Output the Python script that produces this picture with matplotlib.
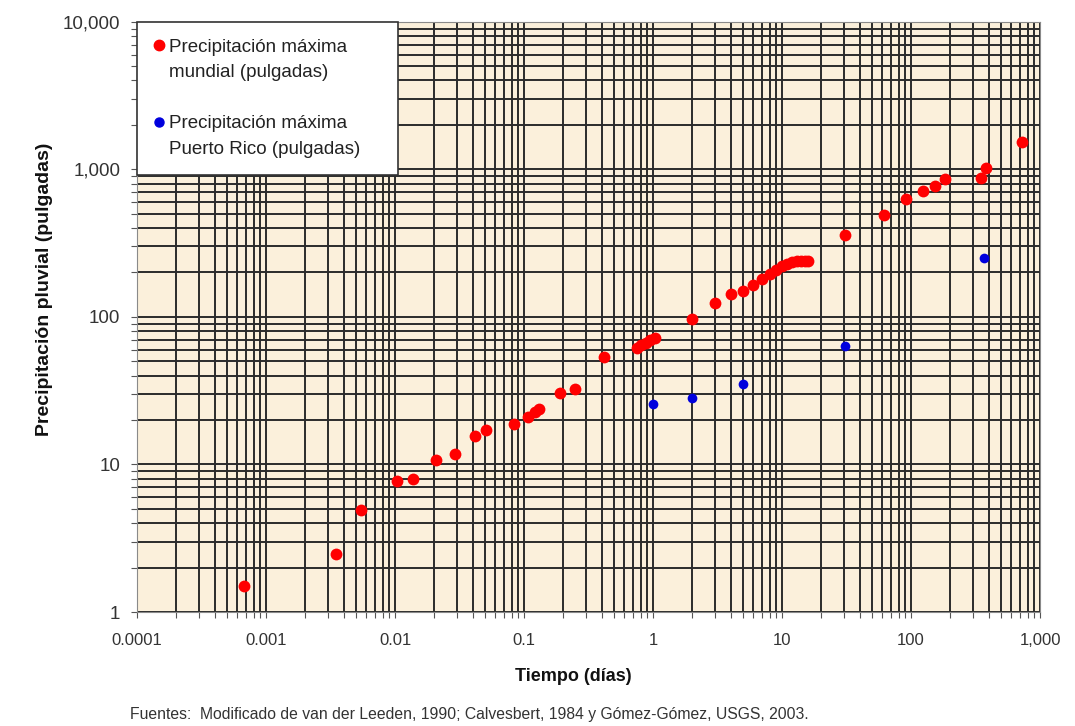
import numpy as np
import matplotlib.pyplot as plt
from matplotlib.ticker import LogLocator, FixedLocator, FixedFormatter, NullFormatter
from matplotlib.lines import Line2D

# Precipitación máxima mundial (pulgadas) vs tiempo (días)
world_days = [0.00068, 0.0035, 0.0054, 0.0104, 0.0138, 0.0208, 0.0293, 0.042, 0.051,
              0.083, 0.108, 0.121, 0.130, 0.189, 0.25, 0.42,
              0.75, 0.80, 0.88, 0.95, 1.04,
              2, 3, 4, 5, 6, 7, 8, 9, 10, 11, 12, 13, 14, 15, 16,
              31, 62, 92, 123, 153, 184, 350, 380, 730]
world_in = [1.5, 2.47, 4.9, 7.7, 8.0, 10.7, 11.8, 15.6, 17.1,
            18.8, 21.0, 22.7, 23.8, 30.5, 32.5, 53.5,
            62, 64, 67, 70, 72,
            97, 124, 143, 150, 165, 182, 196, 208, 220, 229, 235, 238, 239, 240, 240,
            360, 490, 630, 715, 775, 860, 880, 1020, 1540]

# Precipitación máxima Puerto Rico (pulgadas)
pr_days = [1, 2, 5, 31, 365]
pr_in = [25.7, 28.2, 35.1, 63.6, 251]

x_ticks = [1e-4, 1e-3, 1e-2, 1e-1, 1, 10, 100, 1000]
x_labels = ['0.0001', '0.001', '0.01', '0.1', '1', '10', '100', '1,000']
y_ticks = [1, 10, 100, 1000, 10000]
y_labels = ['1', '10', '100', '1,000', '10,000']

legend_rows = ['Precipitación máxima', 'mundial (pulgadas)', ' ',
               'Precipitación máxima', 'Puerto Rico (pulgadas)']

plt.rcParams['font.family'] = ['Liberation Sans', 'DejaVu Sans']

fig = plt.figure(figsize=(10.75, 7.26), dpi=100)
ax = fig.add_axes([0.1275, 0.157, 0.84, 0.813])
ax.set_facecolor('#FBF0DB')

ax.set_xscale('log')
ax.set_yscale('log')
ax.set_xlim(1e-4, 1000)
ax.set_ylim(1, 10000)

ax.xaxis.set_major_locator(FixedLocator(x_ticks))
ax.xaxis.set_major_formatter(FixedFormatter(x_labels))
ax.yaxis.set_major_locator(FixedLocator(y_ticks))
ax.yaxis.set_major_formatter(FixedFormatter(y_labels))
ax.xaxis.set_minor_locator(LogLocator(base=10, subs=np.arange(2, 10), numticks=20))
ax.yaxis.set_minor_locator(LogLocator(base=10, subs=np.arange(2, 10), numticks=20))
ax.xaxis.set_minor_formatter(NullFormatter())
ax.yaxis.set_minor_formatter(NullFormatter())

ax.grid(True, which='both', color='#2b2b2b', linewidth=1.4)
ax.set_axisbelow(True)

ax.tick_params(which='both', direction='out', length=4, color='#555555', width=0.8)
ax.tick_params(axis='y', labelsize=13.5, labelcolor='#333333', pad=8)
ax.tick_params(axis='x', labelsize=12, labelcolor='#333333', pad=11)
for sp in ax.spines.values():
    sp.set_color('#8a8a8a')

ax.plot(world_days, world_in, 'o', color='#FF0000', markersize=8.5, markeredgewidth=0,
        zorder=3)
ax.plot(pr_days, pr_in, 'o', color='#0000DD', markersize=7, markeredgewidth=0,
        zorder=3)

blank = Line2D([], [], ls='none')
handles = [Line2D([], [], ls='none', marker='o', color='#FF0000', markersize=7.5),
           blank, blank,
           Line2D([], [], ls='none', marker='o', color='#0000DD', markersize=6.5),
           blank]
leg = ax.legend(handles, legend_rows,
                loc='upper left', bbox_to_anchor=(0, 0, 261 / 903, 1), mode='expand',
                borderaxespad=0, fontsize=13.5, fancybox=False, framealpha=1,
                edgecolor='#333333', handlelength=0.5, handletextpad=0.3,
                labelspacing=0.45, borderpad=0.9)
leg.get_frame().set_linewidth(1.2)
for t in leg.get_texts():
    t.set_color('#222222')

ax.set_xlabel('Tiempo (días)', fontsize=13, fontweight='bold', color='#111111')
ax.xaxis.set_label_coords(0.483, -0.095)
ax.set_ylabel('Precipitación pluvial (pulgadas)', fontsize=14, fontweight='bold',
              color='#111111')
ax.yaxis.set_label_coords(-0.093, 0.546)

fig.text(0.121, 0.01, 'Fuentes:  Modificado de van der Leeden, 1990; Calvesbert, 1984 y '
         'Gómez-Gómez, USGS, 2003.', fontsize=11.3, color='#333333')

fig.savefig('out.png', dpi=100)
